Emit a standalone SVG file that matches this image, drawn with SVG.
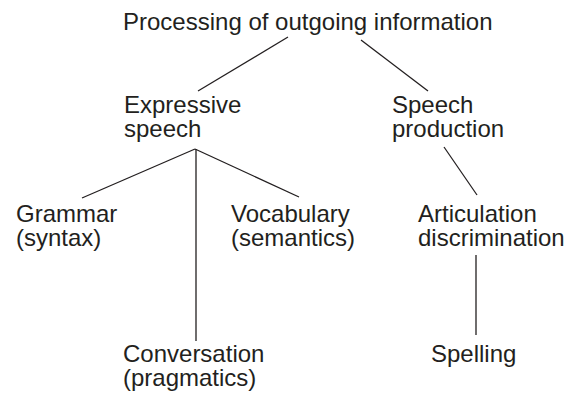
<svg xmlns="http://www.w3.org/2000/svg" width="571" height="393" viewBox="0 0 571 393">
<style>
text{font-family:"Liberation Sans",Arial,sans-serif;font-size:24px;fill:#231f20}
.c line{stroke:#231f20;stroke-width:1.3;fill:none}
</style>
<rect width="571" height="393" fill="#fff"/>
<g id="connectors" class="c">
<line x1="288" y1="37" x2="198" y2="91"/>
<line x1="361" y1="40" x2="428" y2="91"/>
<line x1="195" y1="149" x2="82" y2="198"/>
<line x1="195" y1="149" x2="299" y2="197"/>
<line x1="196" y1="149" x2="196" y2="341"/>
<line x1="444" y1="147" x2="477" y2="195"/>
<line x1="476" y1="255" x2="476" y2="335"/>
</g>
<g id="root"><text x="123" y="30">Processing of outgoing information</text></g>
<g id="expressive"><text x="124" y="113">Expressive</text><text x="124" y="137">speech</text></g>
<g id="speechprod"><text x="392" y="113">Speech</text><text x="392" y="137">production</text></g>
<g id="grammar"><text x="16" y="222">Grammar</text><text x="16" y="246">(syntax)</text></g>
<g id="vocabulary"><text x="231" y="222">Vocabulary</text><text x="231" y="246">(semantics)</text></g>
<g id="articulation"><text x="418" y="222">Articulation</text><text x="418" y="246">discrimination</text></g>
<g id="conversation"><text x="123" y="362">Conversation</text><text x="123" y="386">(pragmatics)</text></g>
<g id="spelling"><text x="431" y="362">Spelling</text></g>
</svg>
